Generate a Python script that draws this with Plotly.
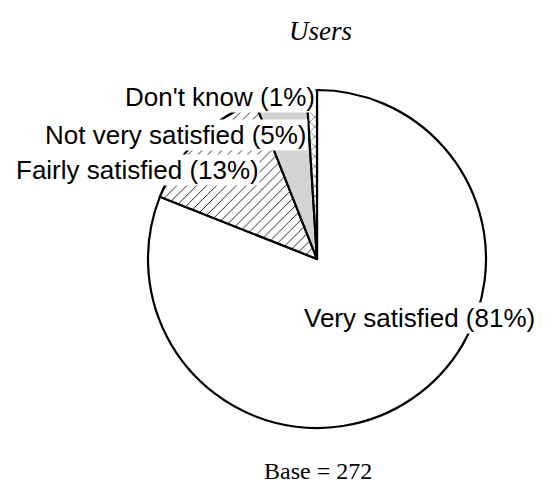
import plotly.graph_objects as go

# Survey data
labels = ["Very satisfied", "Fairly satisfied", "Not very satisfied", "Don't know"]
values = [81, 13, 5, 1]
title_text = "Users"
base_n = 272

fills = ["white", "white", "#d3d3d3", "white"]
patterns = ["", "/", "", "x"]

OFF = 8  # page body margin shifts the figure by 8px
W, H = 545 - OFF, 500 - OFF


def px(x):
    return (x - OFF) / W


def py(y):
    return 1 - (y - OFF) / H


fig = go.Figure()
fig.add_trace(go.Pie(
    labels=labels,
    values=values,
    sort=False,
    direction="clockwise",
    rotation=0,
    textinfo="none",
    hoverinfo="skip",
    showlegend=False,
    marker=dict(
        colors=fills,
        line=dict(color="black", width=2.2),
        pattern=dict(shape=patterns, fgcolor="black", size=7, solidity=0.12),
    ),
    domain=dict(x=[px(148), px(486)], y=[py(428), py(90)]),
))

# label boxes sit on top of the pie, as in the original
lab_font = dict(family="Liberation Sans, Arial, sans-serif", size=26, color="black")
spots = [(536, 318), (260, 170), (308, 135), (316, 97)]
annotations = []
for (x, y), name, v in zip(spots, labels, values):
    annotations.append(dict(
        x=px(x), y=py(y), xref="paper", yref="paper",
        xanchor="right", yanchor="middle",
        text=f"{name} ({v}%)", showarrow=False, font=lab_font,
        bgcolor="white", borderpad=0,
    ))

annotations.append(dict(
    x=px(320), y=py(31), xref="paper", yref="paper",
    xanchor="center", yanchor="middle",
    text=f"<i>{title_text}</i>", showarrow=False,
    font=dict(family="Liberation Serif, serif", size=27, color="black"),
))
annotations.append(dict(
    x=px(318), y=py(471), xref="paper", yref="paper",
    xanchor="center", yanchor="middle",
    text=f"Base = {base_n}", showarrow=False,
    font=dict(family="Liberation Serif, serif", size=24, color="black"),
))

fig.update_layout(
    width=W, height=H,
    margin=dict(l=0, r=0, t=0, b=0),
    paper_bgcolor="white", plot_bgcolor="white",
    annotations=annotations,
)

fig.write_html("out.html")
